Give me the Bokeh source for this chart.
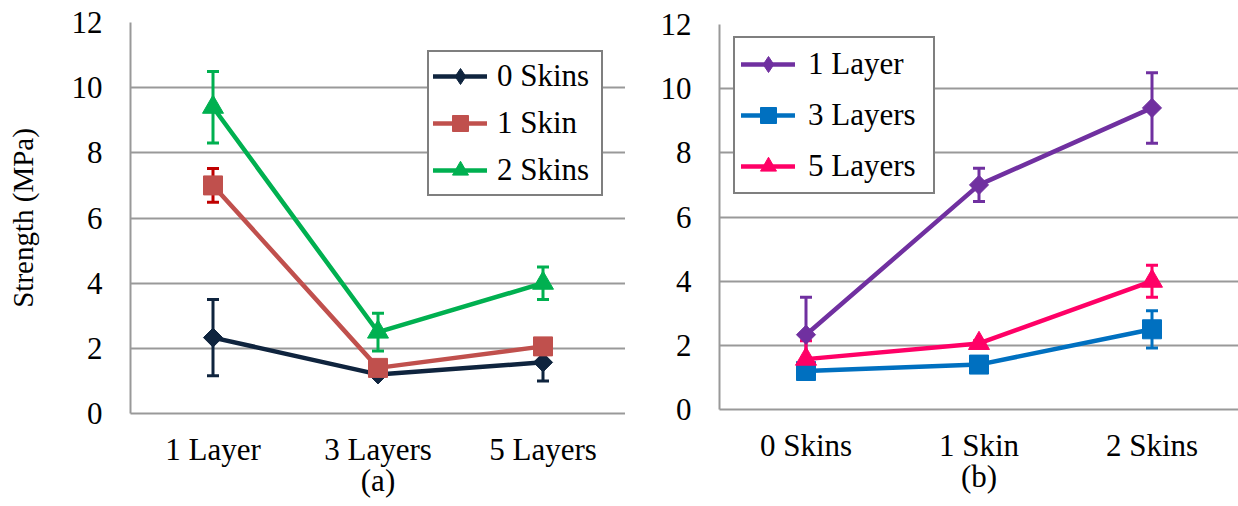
import numpy as np
from bokeh.plotting import figure
from bokeh.layouts import row, column
from bokeh.models import (FactorRange, Range1d, FixedTicker, Whisker, TeeHead,
                          ColumnDataSource)
from bokeh.embed import file_html
from bokeh.resources import INLINE

# ---------------- data ----------------
layers = ["1 Layer", "3 Layers", "5 Layers"]
skins = ["0 Skins", "1 Skin", "2 Skins"]
y_ticks = [0, 2, 4, 6, 8, 10, 12]

# strength (MPa) for each skin count, across 1 / 3 / 5 layers
strength_0_skins = [2.33, 1.2, 1.57]
strength_1_skin = [7.0, 1.4, 2.06]
strength_2_skins = [9.4, 2.5, 4.0]
# error bar half-widths (MPa)
err_0_skins = [1.17, 0.08, 0.57]
err_1_skin = [0.52, 0.08, 0.08]
err_2_skins = [1.1, 0.58, 0.5]

FONT = "Liberation Serif"
GRID = "#999999"
FS = "31px"
H = 504


def make_fig(factors, width, mbl, mbt, mbb, caption):
    p = figure(x_range=FactorRange(*factors), y_range=Range1d(0, 12),
               width=width, height=H, output_backend="svg", toolbar_location=None,
               min_border_left=mbl, min_border_right=0, min_border_top=mbt,
               min_border_bottom=mbb)
    p.outline_line_color = None
    p.background_fill_color = "white"
    p.border_fill_color = "white"
    p.xgrid.grid_line_color = None
    p.ygrid.grid_line_color = GRID
    p.ygrid.grid_line_width = 2
    p.yaxis.ticker = FixedTicker(ticks=y_ticks)
    for ax in (p.xaxis[0], p.yaxis[0]):
        ax.axis_line_color = GRID
        ax.axis_line_width = 2
        ax.major_tick_line_color = None
        ax.minor_tick_line_color = None
        ax.major_tick_out = 0
        ax.major_tick_in = 0
        ax.minor_tick_out = 0
        ax.minor_tick_in = 0
        ax.major_label_text_font = FONT
        ax.major_label_text_font_size = FS
        ax.major_label_text_color = "black"
        ax.axis_label_text_font = FONT
        ax.axis_label_text_font_style = "normal"
        ax.axis_label_text_color = "black"
    p.xaxis.major_label_standoff = 18
    p.yaxis.major_label_standoff = 28
    p.xaxis.axis_label = caption
    p.xaxis.axis_label_text_font_size = FS
    p.xaxis.axis_label_standoff = -7
    return p


def add_series(p, xs, ys, errs, color, err_color, marker, size, label,
               angle=0.0, legend_marker=None):
    src = ColumnDataSource(dict(
        x=xs, y=ys,
        upper=[y + e for y, e in zip(ys, errs)],
        lower=[y - e for y, e in zip(ys, errs)],
    ))
    p.add_layout(Whisker(source=src, base="x", upper="upper", lower="lower",
                         line_color=err_color, line_width=3, level="underlay",
                         upper_head=TeeHead(size=12, line_color=err_color, line_width=3),
                         lower_head=TeeHead(size=12, line_color=err_color, line_width=3)))
    p.line("x", "y", source=src, line_color=color, line_width=4.5,
           line_join="round", line_cap="round", legend_label=label)
    if legend_marker is None:
        p.scatter("x", "y", source=src, marker=marker, size=size, angle=angle,
                  fill_color=color, line_color=color, legend_label=label)
    else:
        p.scatter("x", "y", source=src, marker=marker, size=size, angle=angle,
                  fill_color=color, line_color=color)
        # legend-only marker (not drawn in the plot area: y is NaN)
        p.scatter(x=[xs[0]], y=[float("nan")], marker=legend_marker,
                  fill_color=color, line_color=color, legend_label=label)


def style_legend(p, loc, padding, spacing, standoff, label_width):
    leg = p.legend[0]
    leg.location = loc
    leg.label_text_font = FONT
    leg.label_text_font_size = FS
    leg.label_text_color = "black"
    leg.glyph_width = 54
    leg.glyph_height = 40
    leg.label_height = 34
    leg.label_width = label_width
    leg.label_standoff = standoff
    leg.padding = padding
    leg.spacing = spacing
    leg.margin = 0
    leg.border_line_color = "black"
    leg.border_line_width = 2
    leg.background_fill_color = "white"
    leg.background_fill_alpha = 1.0


# ---------------- panel (a) ----------------
pa = make_fig(layers, 625, 130, 22, H - 413, "(a)")
pa.yaxis.axis_label = "Strength (MPa)"
pa.yaxis.axis_label_text_font_size = "29px"
pa.yaxis.axis_label_standoff = 30
add_series(pa, layers, strength_0_skins, err_0_skins, "#0F243E", "#0F243E",
           "square", 13.5, "0 Skins", angle=np.pi / 4, legend_marker="diamond")
add_series(pa, layers, strength_1_skin, err_1_skin, "#C0504D", "#C00000",
           "square", 19, "1 Skin")
add_series(pa, layers, strength_2_skins, err_2_skins, "#00B050", "#00B050",
           "triangle", 21, "2 Skins")
style_legend(pa, (297, 217), 4, 7, 10, 100)

# ---------------- panel (b) ----------------
one_layer = [strength_0_skins[0], strength_1_skin[0], strength_2_skins[0]]
three_layers = [strength_0_skins[1], strength_1_skin[1], strength_2_skins[1]]
five_layers = [strength_0_skins[2], strength_1_skin[2], strength_2_skins[2]]
err_one = [err_0_skins[0], err_1_skin[0], err_2_skins[0]]
err_three = [err_0_skins[1], err_1_skin[1], err_2_skins[1]]
err_five = [err_0_skins[2], err_1_skin[2], err_2_skins[2]]

pb = make_fig(skins, 613, 94, 24, H - 409, "(b)")
add_series(pb, skins, one_layer, err_one, "#7030A0", "#7030A0",
           "square", 13.5, "1 Layer", angle=np.pi / 4, legend_marker="diamond")
add_series(pb, skins, three_layers, err_three, "#0070C0", "#0070C0",
           "square", 19, "3 Layers")
add_series(pb, skins, five_layers, err_five, "#FF0066", "#FF0066",
           "triangle", 21, "5 Layers")
style_legend(pb, (14, 215), 6, 11, 13, 119)

layout = row(column(pa), column(pb))
open("out.html", "w").write(file_html(layout, INLINE))
